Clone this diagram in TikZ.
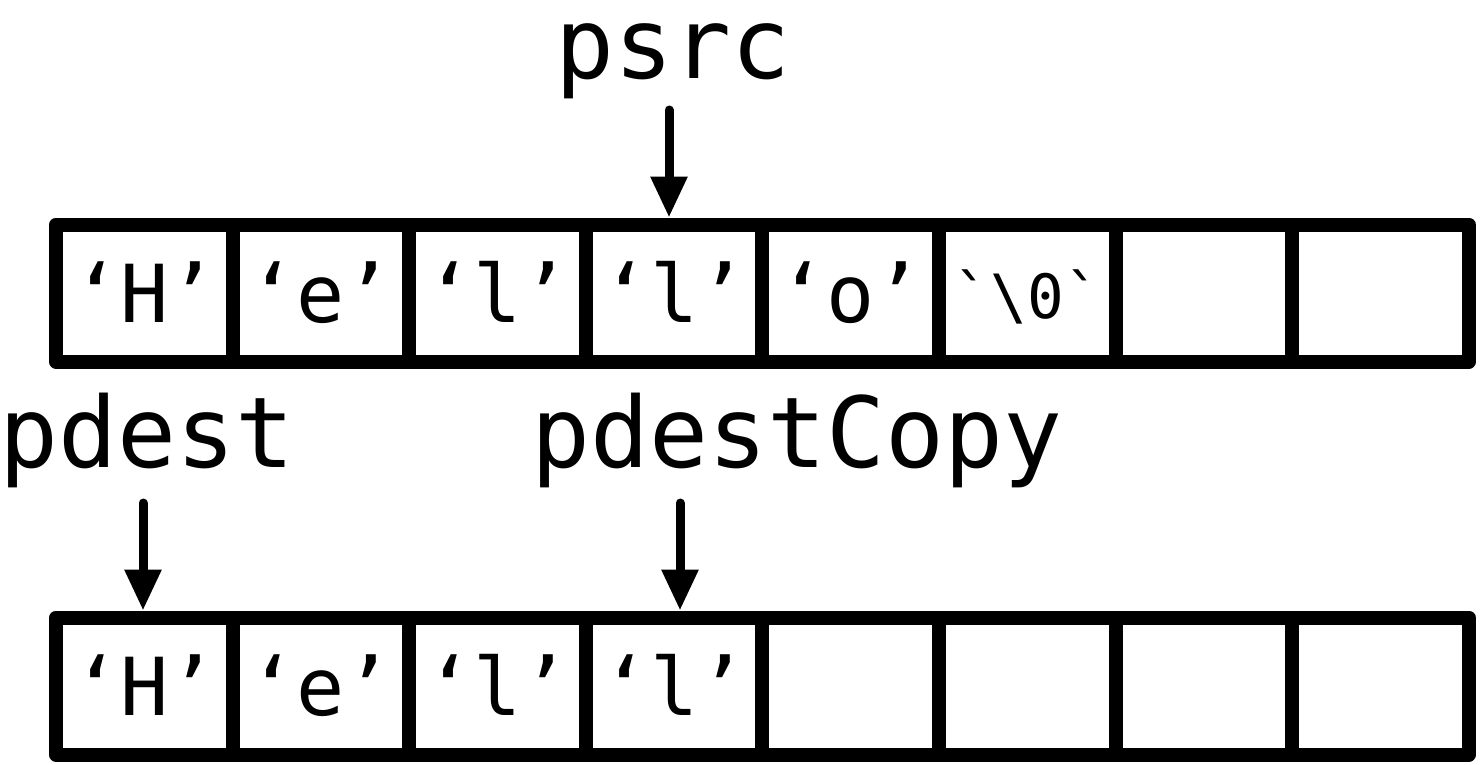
\documentclass[tikz,border=0pt]{standalone}
\usepackage{fontspec}
\setmonofont{DejaVu Sans Mono}
\usetikzlibrary{arrows.meta}
\begin{document}
\begin{tikzpicture}[x=1pt,y=-1pt,
  cell/.style={draw, line width=14pt, line join=round, minimum width=176.6pt, minimum height=137pt,
    inner sep=0pt, font=\ttfamily\fontsize{80}{80}\selectfont, text height=58pt, text depth=0pt},
  small/.style={font=\ttfamily\fontsize{61}{61}\selectfont, text height=50pt},
  lbl/.style={font=\ttfamily\fontsize{98}{98}\selectfont, inner sep=0pt, anchor=base},
  ptr/.style={line width=9pt, line cap=round, -{Triangle[width=35pt,length=41pt]}}]
\useasboundingbox (0,0) rectangle (1482,764);
% top row
\node[cell] (t1) at (144.3,293) {‘H’};
\node[cell] (t2) at (320.9,293) {‘e’};
\node[cell] (t3) at (497.5,293) {‘l’};
\node[cell] (t4) at (674.1,293) {‘l’};
\node[cell] (t5) at (850.7,293) {‘o’};
\node[cell,small] (t6) at (1027.3,293) {`\textbackslash 0`};
\node[cell] (t7) at (1203.9,293) {};
\node[cell] (t8) at (1380.5,293) {};
% bottom row
\node[cell] (b1) at (144.3,686) {‘H’};
\node[cell] (b2) at (320.9,686) {‘e’};
\node[cell] (b3) at (497.5,686) {‘l’};
\node[cell] (b4) at (674.1,686) {‘l’};
\node[cell] (b5) at (850.7,686) {};
\node[cell] (b6) at (1027.3,686) {};
\node[cell] (b7) at (1203.9,686) {};
\node[cell] (b8) at (1380.5,686) {};
% labels
\node[lbl] (psrc) at (673,78) {psrc};
\node[lbl] (pdest) at (147,467) {pdest};
\node[lbl] (pcopy) at (797,467) {pdestCopy};
% pointers
\coordinate (s0) at (669,110);
\coordinate (d0) at (143,503);
\coordinate (c0) at (680,503);
\draw[ptr] (s0) -- (s0 |- t4.north);
\draw[ptr] (d0) -- (d0 |- b1.north);
\draw[ptr] (c0) -- (c0 |- b4.north);
\end{tikzpicture}
\end{document}
